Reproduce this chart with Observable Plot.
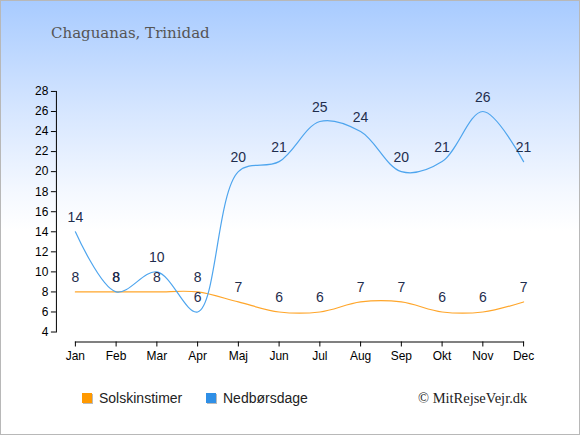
<!DOCTYPE html>
<html>
<head>
<meta charset="utf-8">
<script src="https://cdn.jsdelivr.net/npm/d3@7"></script>
<script src="https://cdn.jsdelivr.net/npm/@observablehq/plot@0.6"></script>
<style>
  html, body { margin: 0; padding: 0; }
  #chart {
    position: relative;
    width: 578px; height: 433px;
    border: 1px solid #b8b8b8;
    background: linear-gradient(to bottom, #a8cbff 0px, #d6e6ff 110px, #f4f8ff 190px, #ffffff 230px, #ffffff 100%);
    overflow: hidden;
  }
  #title {
    position: absolute; left: 50px; top: 23px;
    font-family: "DejaVu Serif", "Liberation Serif", serif;
    font-size: 15px; color: #555;
  }
  #plot { position: absolute; left: -1px; top: 59px; }
  .leg {
    position: absolute; top: 389px;
    font-family: "Liberation Sans", Arial, sans-serif; font-size: 14px; color: #222;
    display: flex; align-items: center;
  }
  .sw { width: 10px; height: 10px; margin-right: 7px; box-shadow: 1px 1px 0 #bbb; }
  #copy {
    position: absolute; left: 417px; top: 389px;
    font-family: "Liberation Serif", "DejaVu Serif", serif; font-size: 14.5px; color: #222;
  }
</style>
</head>
<body>
<div id="chart">
  <div id="title">Chaguanas, Trinidad</div>
  <div id="plot"></div>
  <div class="leg" style="left:81px"><span class="sw" style="background:#ff9900"></span>Solskinstimer</div>
  <div class="leg" style="left:205px"><span class="sw" style="background:#2f8fe6"></span>Nedbørsdage</div>
  <div id="copy">© MitRejseVejr.dk</div>
</div>
<script>
const months = ["Jan","Feb","Mar","Apr","Maj","Jun","Jul","Aug","Sep","Okt","Nov","Dec"];
const sunHours = [8,8,8,8,7,6,6,7,7,6,6,7];
const rainDays = [14,8,10,6,20,21,25,24,20,21,26,21];
const yTicks = [4,6,8,10,12,14,16,18,20,22,24,26,28];

const sun = months.map((m, i) => ({month: m, value: sunHours[i]}));
const rain = months.map((m, i) => ({month: m, value: rainDays[i]}));

const chart = Plot.plot({
  width: 580,
  height: 312,
  marginLeft: 56,
  marginRight: 56,
  marginTop: 31,
  marginBottom: 40,
  style: {background: "transparent", fontFamily: "'Liberation Sans', Arial, sans-serif", fontSize: "12px", color: "#000", overflow: "visible"},
  x: {type: "point", domain: months, insetLeft: 19, padding: 0, round: false},
  y: {domain: [4, 28]},
  marks: [
    Plot.frame({anchor: "left", stroke: "#000", strokeOpacity: 1}),
    Plot.frame({anchor: "bottom", stroke: "#000", strokeOpacity: 1, insetLeft: 19, dy: 10}),
    Plot.axisY({ticks: yTicks, tickSize: 5, tickPadding: 3, label: null, fontSize: 12, stroke: "#000", fill: "#000"}),
    Plot.axisX({tickSize: 5, tickPadding: 4, dy: 10, label: null, fontSize: 12, stroke: "#000", fill: "#000"}),
    Plot.line(sun, {x: "month", y: "value", stroke: "#ffa62b", strokeWidth: 1.2, curve: "catmull-rom"}),
    Plot.line(rain, {x: "month", y: "value", stroke: "#4ea5ee", strokeWidth: 1.2, curve: "catmull-rom"}),
    Plot.text(sun, {x: "month", y: "value", text: d => String(d.value), dy: -14, fill: "#1f2d4d", fontSize: 14}),
    Plot.text(rain, {x: "month", y: "value", text: d => String(d.value), dy: -14, fill: "#1f2d4d", fontSize: 14})
  ]
});
document.getElementById("plot").appendChild(chart);
</script>
</body>
</html>
